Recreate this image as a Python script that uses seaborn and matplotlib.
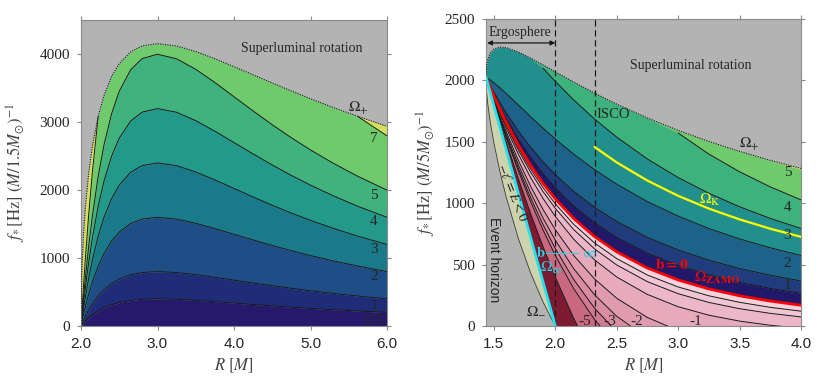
import numpy as np
import matplotlib
matplotlib.use("Agg")
import matplotlib.pyplot as plt
import seaborn as sns

nan = np.nan

# --- Left panel (M = 1.5 Msun): frequencies in Hz read along R ---
r_left = [2.0, 2.01, 2.03, 2.06, 2.1, 2.15, 2.225, 2.3, 2.4, 2.5, 2.65, 2.8, 3.0,
          3.25, 3.5, 3.75, 4.0, 4.25, 4.5, 4.75, 5.0, 5.3, 5.62, 6.0]
omega_plus_left = [0, 756, 1290, 1785, 2239, 2647, 3079, 3383, 3665, 3854, 4026, 4113, 4146,
                   4111, 4030, 3924, 3808, 3688, 3568, 3451, 3337, 3207, 3077, 2932]
l05_left = [0, 13, 39, 74, 116, 163, 220, 266, 312, 345, 376, 393, 399,
            392, 377, 357, 337, 316, 296, 276, 259, 239, 220, 199]
l1_left = [0, 27, 77, 148, 233, 325, 440, 531, 623, 689, 753, 785, 798,
           785, 754, 715, 673, 631, 591, 553, 517, 478, 439, 399]
l2_left = [0, 53, 155, 296, 465, 650, 880, 1062, 1247, 1379, 1505, 1570, 1596,
           1569, 1507, 1430, 1346, 1263, 1182, 1106, 1034, 955, 879, 798]
l3_left = [0, 80, 232, 444, 698, 975, 1320, 1594, 1870, 2068, 2258, 2355, 2394,
           2354, 2261, 2145, 2020, 1894, 1773, 1658, 1551, 1433, 1318, 1197]
l4_left = [0, 106, 309, 592, 930, 1300, 1760, 2125, 2494, 2758, 3010, 3140, 3192,
           3138, 3015, 2860, 2693, 2526, 2364, 2211, 2068, 1910, 1757, 1596]
l5_left = [0, 133, 387, 740, 1163, 1626, 2201, 2656, 3117, 3447, 3763, 3926, 3990,
           3923, 3769, 3575, 3366, 3157, 2955, 2764, 2585, 2388, 2197, 1995]
l7_left = [0, 186, 541, 1035, 1628, 2276, 3079, nan, nan, nan, nan, nan, nan,
           nan, nan, nan, nan, nan, nan, nan, nan, nan, 3075, 2792]
left_levels = ["0.5", "1", "2", "3", "4", "5", "7"]

# --- Right panel (M = 5 Msun) ---
r_right = [1.4359, 1.44, 1.45, 1.47, 1.5, 1.55, 1.6, 1.7, 1.8, 1.9, 2.0, 2.15, 2.32,
           2.5, 2.75, 3.0, 3.25, 3.5, 3.75, 4.0]
omega_plus = [2025, 2112, 2170, 2222, 2255, 2272, 2267, 2231, 2181, 2126, 2070, 1986, 1896,
              1807, 1694, 1593, 1503, 1422, 1349, 1283]
omega_minus = [2025, 1918, 1811, 1664, 1491, 1254, 1051, 710, 430, 196, 0, -237, -441,
               -600, -750, -844, -900, -931, -944, -945]
omega_inf = [2025, 2010, 1975, 1903, 1795, 1616, 1436, 1077, 718, 359, 0, -539, -1149,
             -1795, -2693, -3590, -4488, -5385, -6283, -7180]
zamo = [2025, 2015, 1991, 1943, 1873, 1763, 1659, 1471, 1306, 1161, 1035, 875, 728,
        604, 472, 375, 302, 246, 203, 169]
p05 = [2025, 2016, 1994, 1950, 1886, 1786, 1692, 1521, 1372, 1240, 1125, 977, 840,
       721, 592, 493, 416, 355, 306, 266]
p1 = [2025, 2017, 1998, 1960, 1905, 1818, 1736, 1587, 1454, 1337, 1232, 1096, 966,
      851, 721, 619, 536, 468, 413, 366]
p2 = [2025, 2023, 2017, 2003, 1981, 1939, 1894, 1799, 1704, 1611, 1523, 1399, 1273,
      1155, 1013, 895, 794, 709, 637, 574]
p3 = [nan, nan, nan, nan, nan, nan, nan, nan, nan, 2099, 1992, 1841, 1685,
      1538, 1360, 1209, 1081, 971, 876, 794]
p4 = [nan, nan, nan, nan, nan, nan, nan, nan, nan, nan, nan, nan, nan,
      nan, nan, 1572, 1400, 1256, 1133, 1027]
p5 = [nan, nan, nan, nan, nan, nan, nan, nan, nan, nan, nan, nan, nan,
      nan, nan, nan, nan, nan, nan, 1274]
n025 = [2025, 2015, 1990, 1940, 1868, 1753, 1645, 1449, 1277, 1127, 995, 828, 676,
        549, 415, 318, 246, 193, 152, 121]
n05 = [2025, 2015, 1989, 1938, 1863, 1745, 1634, 1430, 1252, 1095, 958, 785, 628,
       497, 361, 263, 192, 141, 103, 74]
n1 = [2025, 2014, 1987, 1934, 1856, 1731, 1613, 1398, 1207, 1039, 892, 706, 538,
      399, 257, 157, 88, 40, 6, -18]
n2 = [2025, 2013, 1985, 1928, 1844, 1711, 1583, 1347, 1136, 949, 784, 574, 383,
      226, 69, -37, -107, -152, -180, -196]
n3 = [2025, 2013, 1983, 1924, 1837, 1696, 1562, 1311, 1084, 880, 699, 467, 254,
      79, -97, -213, -287, -331, -355, -366]
n4 = [2025, 2013, 1982, 1921, 1831, 1686, 1546, 1283, 1043, 826, 631, 378, 145,
      -49, -244, -372, -452, -498, -520, -527]
n5 = [2025, 2012, 1981, 1919, 1827, 1678, 1534, 1261, 1010, 782, 575, 304, 52,
      -160, -375, -516, -604, -654, -677, -681]
n10 = [2025, 2012, 1979, 1913, 1815, 1655, 1499, 1197, 913, 646, 398, 62, -266,
       -555, -864, -1080, -1222, -1306, -1346, -1354]
r_kepler = [2.32, 2.5, 2.75, 3.0, 3.25, 3.5, 3.75, 4.0]
omega_kepler = [1458, 1332, 1184, 1060, 956, 868, 792, 726]
r_ergo = 2.0
r_isco = 2.32
right_pos_levels = ["1", "2", "3", "4", "5"]
right_neg_levels = ["-5", "-3", "-2", "-1"]

# --- style ---
sns.set_theme(style="ticks")
plt.rcParams["font.family"] = ["Liberation Serif", "DejaVu Serif"]
plt.rcParams["mathtext.fontset"] = "stix"

GREY = "#b3b3b3"
fig = plt.figure(figsize=(8.3, 3.89), dpi=100)
ax1 = fig.add_axes([81 / 830, 1 - 326 / 389, 306 / 830, 306.5 / 389])
ax2 = fig.add_axes([486 / 830, 1 - 326 / 389, 315 / 830, 307 / 389])

for ax in (ax1, ax2):
    ax.set_facecolor(GREY)
    for s in ax.spines.values():
        s.set_color("#8a8a8a")
        s.set_linewidth(0.8)
    ax.tick_params(direction="out", length=3, width=0.8, color="#8a8a8a",
                   top=True, right=True, labelsize=11, pad=5)

# --- left panel ---
rl = np.array(r_left)
top_l = np.array(omega_plus_left, dtype=float)
left_curves = [np.zeros_like(rl), l05_left, l1_left, l2_left, l3_left, l4_left,
               l5_left, l7_left, top_l]
left_curves = [np.array(c, dtype=float) for c in left_curves]
left_colors = ["#26186b", "#1f2c78", "#1e4e85", "#1a7a89", "#22998a",
               "#3fb27d", "#6fca6c", "#d4e15a"]
for lo, hi, c in zip(left_curves[:-1], left_curves[1:], left_colors):
    ax1.fill_between(rl, np.fmin(lo, top_l), np.fmin(hi, top_l), color=c, lw=0, zorder=1)
for line in left_curves[1:-1]:
    ax1.plot(rl, line, color="k", lw=0.7, zorder=2)
ax1.plot(rl, top_l, color="k", lw=0.8, ls=(0, (1, 1.2)), zorder=3)

left_label_y = [88, 308, 720, 1130, 1527, 1909, 2760]
for lab, y in zip(left_levels, left_label_y):
    ax1.text(5.83, y, lab, fontsize=11, ha="center", va="center", zorder=5)
ax1.text(4.89, 4067, "Superluminal rotation", fontsize=10, ha="center", va="center")
ax1.text(5.62, 3200, r"$\Omega_{+}$", fontsize=11, ha="center", va="center")

ax1.set_xlim(2.0, 6.0)
ax1.set_ylim(0, 4500)
ax1.set_xticks([2, 3, 4, 5, 6])
ax1.set_xticklabels(["2.0", "3.0", "4.0", "5.0", "6.0"])
ax1.set_yticks([0, 1000, 2000, 3000, 4000])
ax1.set_xlabel(r"$R\ [M]$", fontsize=12, labelpad=4)
ax1.set_ylabel(r"$f_{*}\,[\mathrm{Hz}]\ (M/1.5M_{\odot})^{-1}$", fontsize=12)
ax1.yaxis.set_label_coords(-0.172, 0.5)

# --- right panel ---
rr = np.array(r_right)
top_r = np.array(omega_plus, dtype=float)
right_curves = [omega_minus, omega_inf, n10, n5, n4, n3, n2, n1, n05, n025, zamo,
                p05, p1, p2, p3, p4, p5, omega_plus]
right_curves = [np.array(c, dtype=float) for c in right_curves]
right_colors = ["#cdd3ad", "#7d1a32", "#c9687f", "#d27a91", "#da8ca1", "#e19bb0",
                "#e7a9bc", "#ecb8c9", "#f1c6d3", "#f6d3dd", "#22186a", "#1f3c7c",
                "#1d6289", "#21908c", "#3db27d", "#6fca6c", "#d4e15a"]
for lo, hi, c in zip(right_curves[:-1], right_curves[1:], right_colors):
    ax2.fill_between(rr, np.fmin(lo, top_r), np.fmin(hi, top_r), color=c, lw=0, zorder=1)
for line in [n10, n5, n4, n3, n2, n1, n05, n025, p05, p1, p2, p3, p4]:
    ax2.plot(rr, line, color="k", lw=0.7, zorder=2)
ax2.plot(rr, omega_minus, color="#3a3a3a", lw=0.6, zorder=2)
ax2.plot(rr, top_r, color="k", lw=0.8, ls=(0, (1, 1.2)), zorder=3)
ax2.axvline(r_ergo, color="k", lw=0.9, ls=(0, (5, 3)), zorder=3)
ax2.axvline(r_isco, color="k", lw=0.9, ls=(0, (5, 3)), zorder=3)

sns.lineplot(x=rr, y=np.array(zamo, dtype=float), ax=ax2, color="#ff0000", lw=2.0,
             estimator=None, sort=False, zorder=4)
sns.lineplot(x=rr, y=np.array(omega_inf, dtype=float), ax=ax2, color="#1fe3ee", lw=2.0,
             estimator=None, sort=False, zorder=4)
sns.lineplot(x=r_kepler, y=omega_kepler, ax=ax2, color="#ffff00", lw=1.6,
             estimator=None, sort=False, zorder=4)

pos_label_y = [326, 513, 741, 961, 1246]
for lab, y in zip(right_pos_levels, pos_label_y):
    ax2.text(3.89, y, lab, fontsize=11, ha="center", va="center", zorder=5)
neg_label_x = [2.24, 2.44, 2.66, 3.14]
for lab, x in zip(right_neg_levels, neg_label_x):
    ax2.text(x, 40, lab, fontsize=11, ha="center", va="center", zorder=5)

ax2.text(3.10, 2125, "Superluminal rotation", fontsize=10, ha="center", va="center")
ax2.text(3.58, 1482, r"$\Omega_{+}$", fontsize=11, ha="center", va="center")
ax2.text(1.71, 2386, "Ergosphere", fontsize=10, ha="center", va="center")
ax2.annotate("", xy=(1.445, 2305), xytext=(2.0, 2305),
             arrowprops=dict(arrowstyle="<|-|>", color="k", lw=0.9,
                             mutation_scale=7, shrinkA=0, shrinkB=0))
ax2.text(2.47, 1726, "ISCO", fontsize=10.5, ha="center", va="center", zorder=5)
ax2.text(3.26, 1026, r"$\Omega_{\rm K}$", fontsize=11, color="#ffff00",
         ha="center", va="center", zorder=5)
ax2.text(2.95, 497, r"$\mathbf{b = 0}$", fontsize=11, color="#ff0000",
         ha="center", va="center", zorder=5)
ax2.text(3.32, 391, r"$\Omega_{\mathbf{ZAMO}}$", fontsize=11, color="#ff0000",
         ha="center", va="center", zorder=5)
ax2.text(2.09, 594, r"$\mathbf{b}\!\longrightarrow\!-\infty$", fontsize=10.5, color="#1fd6e6",
         ha="center", va="center", zorder=5)
ax2.text(1.964, 472, r"$\Omega_{\infty}$", fontsize=11, color="#1fd6e6",
         ha="center", va="center", zorder=5)
ax2.text(1.84, 130, r"$\Omega_{-}$", fontsize=11, ha="center", va="center", zorder=5)
ax2.text(1.50, 537, "Event horizon", fontsize=10, family="Liberation Sans",
         rotation=-90, ha="center", va="center", zorder=5)
ax2.text(1.65, 1091, r"$-\ell = E < 0$", fontsize=10, rotation=-68,
         ha="center", va="center", zorder=5)

ax2.set_xlim(1.4359, 4.0)
ax2.set_ylim(0, 2500)
ax2.set_xticks([1.5, 2.0, 2.5, 3.0, 3.5, 4.0])
ax2.set_xticklabels(["1.5", "2.0", "2.5", "3.0", "3.5", "4.0"])
ax2.set_yticks([0, 500, 1000, 1500, 2000, 2500])
ax2.set_xlabel(r"$R\ [M]$", fontsize=12, labelpad=4)
ax2.set_ylabel(r"$f_{*}\,[\mathrm{Hz}]\ (M/5M_{\odot})^{-1}$", fontsize=12)
ax2.yaxis.set_label_coords(-0.152, 0.5)

for ax in (ax1, ax2):
    for t in ax.get_xticklabels():
        t.set_family("Liberation Sans")
    for t in ax.get_yticklabels():
        t.set_family("Liberation Serif")
    ax.xaxis.label.set_color("#444444")
    ax.yaxis.label.set_color("#444444")

fig.savefig("out.png", dpi=100)
